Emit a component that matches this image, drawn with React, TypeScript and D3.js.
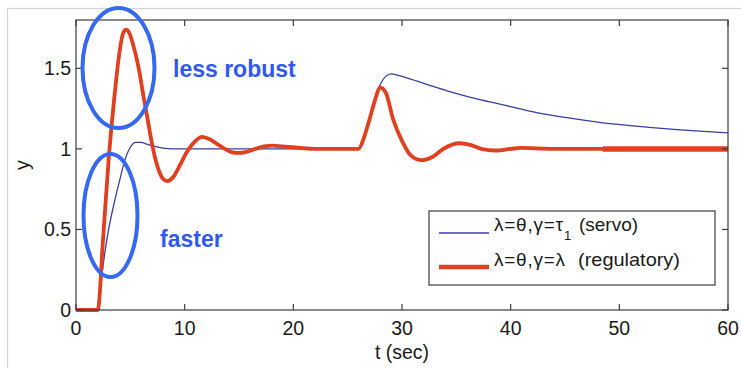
import React from "react";
import * as d3 from "d3";

// Servo tuning response (blue)
const servoT = [0, 2, 2.3, 2.6, 3, 3.5, 4, 4.5, 5, 5.5, 6, 6.5, 7, 8, 9, 12, 20, 26, 26.5, 27, 27.5, 28, 28.5, 29, 29.5, 30, 31.4, 33, 34.4, 36.3, 38, 40, 42.4, 45, 48.5, 51, 54.7, 57, 60];
const servoY = [0, 0, 0.17, 0.33, 0.5, 0.66, 0.8, 0.93, 1.01, 1.04, 1.04, 1.03, 1.02, 1.005, 1.0, 1.0, 1.0, 1.0, 1.06, 1.18, 1.31, 1.40, 1.45, 1.465, 1.46, 1.45, 1.42, 1.385, 1.355, 1.32, 1.293, 1.262, 1.225, 1.195, 1.162, 1.145, 1.123, 1.112, 1.10];

// Regulatory tuning response (red)
const regT = [0, 2, 2.5, 3, 3.5, 4, 4.3, 4.6, 4.9, 5.2, 5.8, 6.2, 6.6, 7, 7.5, 8, 8.4, 9, 9.5, 10.2, 11, 11.6, 12.3, 13, 13.7, 14.3, 14.9, 15.6, 16.5, 17.3, 18.1, 19, 20.6, 22, 26, 26.5, 27, 27.5, 28, 28.5, 29.2, 30, 30.8, 31.8, 32.8, 33.8, 35.3, 36.3, 37.3, 38.6, 40, 40.9, 44, 48.5, 60];
const regY = [0, 0, 0.45, 0.93, 1.3, 1.6, 1.71, 1.74, 1.72, 1.66, 1.49, 1.33, 1.18, 1.03, 0.89, 0.815, 0.8, 0.83, 0.89, 0.98, 1.05, 1.075, 1.06, 1.03, 1.0, 0.98, 0.975, 0.98, 1.0, 1.015, 1.02, 1.015, 1.006, 1.0, 1.0, 1.07, 1.18, 1.30, 1.38, 1.35, 1.18, 1.05, 0.96, 0.93, 0.95, 1.0, 1.035, 1.025, 1.0, 0.99, 1.0, 1.006, 1.0, 1.0, 1.0];

const xTicks = [0, 10, 20, 30, 40, 50, 60];
const yTicks = [0, 0.5, 1, 1.5];
const yTickLabels = ["0", "0.5", "1", "1.5"];
const thickFrom = 48.5;

const W = 741;
const H = 368;
const M = { left: 76, top: 20, right: 728, bottom: 310 };

export default function App() {
  const x = d3.scaleLinear().domain([0, 60]).range([M.left, M.right]);
  const y = d3.scaleLinear().domain([0, 1.8]).range([M.bottom, M.top]);

  const line = d3
    .line<[number, number]>()
    .x((d) => x(d[0]))
    .y((d) => y(d[1]))
    .curve(d3.curveMonotoneX);

  const servo: [number, number][] = servoT.map((t, i) => [t, servoY[i]]);
  const reg: [number, number][] = regT.map((t, i) => [t, regY[i]]);
  const regTail = reg.filter((d) => d[0] >= thickFrom);

  const font = "'Liberation Sans', Arial, Helvetica, sans-serif";
  const axisColor = "#3c3c3c";
  const red = "#e0401f";
  const navy = "#3c3ea0";
  const annot = "#2f58f2";
  const tickLen = 6;
  const tickFont = 19.5;
  const legFont = 19;

  return (
    <svg
      width={W}
      height={H}
      style={{ position: "absolute", left: 0, top: 0, background: "#fff" }}
      fontFamily={font}
    >
      <rect x={0} y={0} width={W} height={H} fill="#fff" />
      {/* outer screenshot frame */}
      <rect x={7.5} y={8.5} width={W + 20} height={H + 20} fill="none" stroke="#d4d4d4" strokeWidth={1.2} />

      {/* curves, clipped to axes */}
      <defs>
        <clipPath id="plotclip">
          <rect x={M.left - 2} y={M.top} width={M.right - M.left + 2} height={M.bottom - M.top + 3} />
        </clipPath>
      </defs>
      <g clipPath="url(#plotclip)">
        <path d={line(servo) ?? ""} fill="none" stroke={navy} strokeWidth={1.3} />
        <path d={line(reg) ?? ""} fill="none" stroke={red} strokeWidth={3.8} strokeLinejoin="round" />
        <path d={line(regTail) ?? ""} fill="none" stroke={red} strokeWidth={5.5} />
      </g>

      {/* axes box */}
      <rect
        x={M.left}
        y={M.top}
        width={M.right - M.left}
        height={M.bottom - M.top}
        fill="none"
        stroke={axisColor}
        strokeWidth={1.2}
      />
      {xTicks.map((t) => (
        <g key={"xt" + t}>
          <line x1={x(t)} x2={x(t)} y1={M.bottom} y2={M.bottom - tickLen} stroke={axisColor} strokeWidth={1.2} />
          <line x1={x(t)} x2={x(t)} y1={M.top} y2={M.top + tickLen} stroke={axisColor} strokeWidth={1.2} />
          <text x={x(t)} y={335} textAnchor="middle" fontSize={tickFont} fill="#1a1a1a">
            {t}
          </text>
        </g>
      ))}
      {yTicks.map((v, i) => (
        <g key={"yt" + v}>
          <line x1={M.left} x2={M.left + tickLen} y1={y(v)} y2={y(v)} stroke={axisColor} strokeWidth={1.2} />
          <line x1={M.right} x2={M.right - tickLen} y1={y(v)} y2={y(v)} stroke={axisColor} strokeWidth={1.2} />
          <text x={71} y={y(v) + 7} textAnchor="end" fontSize={tickFont} fill="#1a1a1a">
            {yTickLabels[i]}
          </text>
        </g>
      ))}
      <text x={402} y={359} textAnchor="middle" fontSize={tickFont} fill="#1a1a1a">
        t (sec)
      </text>
      <text
        transform={`translate(29, ${(M.top + M.bottom) / 2}) rotate(-90)`}
        textAnchor="middle"
        fontSize={tickFont}
        fill="#1a1a1a"
      >
        y
      </text>

      {/* legend */}
      <rect x={429} y={211} width={286} height={74} fill="#fff" stroke={axisColor} strokeWidth={1.2} />
      <line x1={439} x2={489} y1={233} y2={233} stroke={navy} strokeWidth={1.3} />
      <line x1={439} x2={489} y1={267} y2={267} stroke={red} strokeWidth={4.5} />
      <text x={494} y={231} fontSize={legFont} fill="#1a1a1a" textLength={69} lengthAdjust="spacing">
        λ=θ,γ=τ
      </text>
      <text x={564} y={240} fontSize={13} fill="#1a1a1a">
        1
      </text>
      <text x={579} y={231} fontSize={legFont} fill="#1a1a1a" textLength={59} lengthAdjust="spacingAndGlyphs">
        (servo)
      </text>
      <text x={494} y={266} fontSize={legFont} fill="#1a1a1a" textLength={71} lengthAdjust="spacing">
        λ=θ,γ=λ
      </text>
      <text x={578} y={266} fontSize={legFont} fill="#1a1a1a" textLength={102} lengthAdjust="spacingAndGlyphs">
        (regulatory)
      </text>

      {/* annotations */}
      <ellipse cx={118.5} cy={68} rx={36} ry={60} fill="none" stroke="#3569f2" strokeWidth={4} />
      <ellipse cx={110.5} cy={215.5} rx={27} ry={61.5} fill="none" stroke="#3569f2" strokeWidth={4} />
      <text x={173} y={77} fontSize={23} fontWeight="bold" fill={annot}>
        less robust
      </text>
      <text x={160} y={247} fontSize={23} fontWeight="bold" fill={annot}>
        faster
      </text>
    </svg>
  );
}
